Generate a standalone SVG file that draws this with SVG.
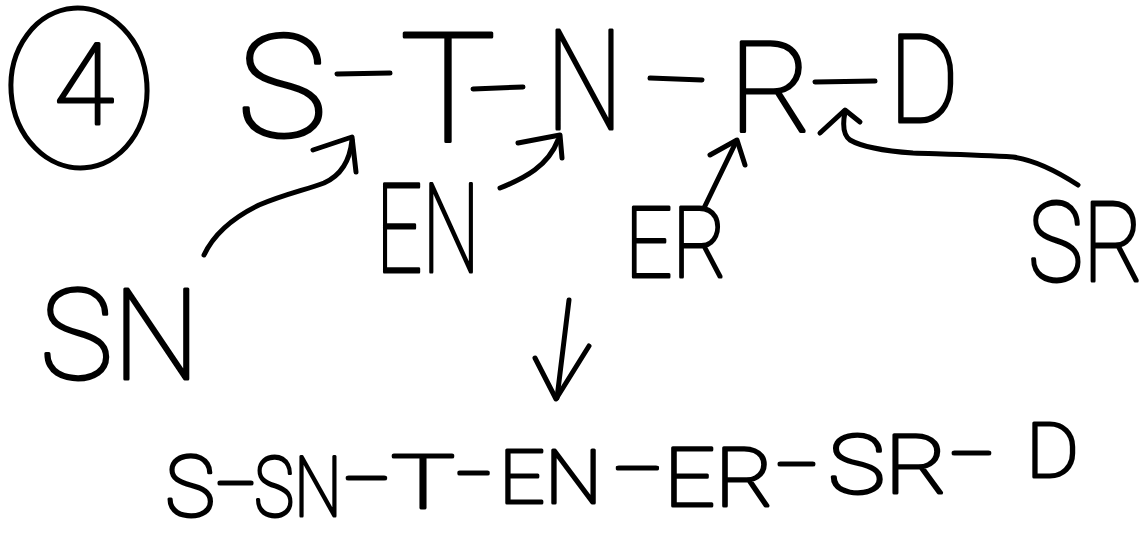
<svg xmlns="http://www.w3.org/2000/svg" width="1146" height="537" viewBox="0 0 1146 537">
<style>
.hw{font-family:Roboto,Lato,"Open Sans","DejaVu Sans",sans-serif;font-weight:100;fill:#000;stroke:#000;stroke-width:3;stroke-linejoin:round}
.ln{fill:none;stroke:#000;stroke-width:5;stroke-linecap:round;stroke-linejoin:round}
</style>
<rect width="1146" height="537" fill="#fff"/>
<g id="step-number">
<ellipse class="ln" cx="79" cy="88" rx="68" ry="80" transform="rotate(-4 79 88)"/>
<text class="hw" x="54" y="124" font-size="113" textLength="60" lengthAdjust="spacingAndGlyphs">4</text>
</g>
<g id="node-S"><text class="hw" x="237" y="137" font-size="142" textLength="90" lengthAdjust="spacingAndGlyphs">S</text></g>
<g id="node-T"><text class="hw" x="400" y="141" font-size="152" textLength="96" lengthAdjust="spacingAndGlyphs">T</text></g>
<g id="node-N"><text class="hw" x="546" y="129" font-size="139" textLength="77" lengthAdjust="spacingAndGlyphs">N</text></g>
<g id="node-R"><text class="hw" x="729" y="131" font-size="127" textLength="84" lengthAdjust="spacingAndGlyphs">R</text></g>
<g id="node-D"><text class="hw" x="889" y="122" font-size="122" textLength="70" lengthAdjust="spacingAndGlyphs">D</text></g>
<g id="node-SN"><text class="hw" x="40" y="379" font-size="127" textLength="160" lengthAdjust="spacingAndGlyphs">SN</text></g>
<g id="node-EN"><text class="hw" x="376" y="272" font-size="124" textLength="104" lengthAdjust="spacingAndGlyphs">EN</text></g>
<g id="node-ER"><text class="hw" x="625" y="277" font-size="98" textLength="102" lengthAdjust="spacingAndGlyphs">ER</text></g>
<g id="node-SR"><text class="hw" transform="translate(1028 281) scale(0.82 1)" x="0" y="0" font-size="112" textLength="141.5" lengthAdjust="spacingAndGlyphs">SR</text></g>
<g id="result">
<text class="hw" transform="scale(0.8 1)"><tspan x="206.25" y="516" font-size="86" textLength="62.5" lengthAdjust="spacingAndGlyphs">S</tspan><tspan x="270" y="509" font-size="80" textLength="50" lengthAdjust="spacingAndGlyphs">-</tspan><tspan x="317.5" y="516" font-size="84" textLength="110" lengthAdjust="spacingAndGlyphs">SN</tspan><tspan x="430" y="504" font-size="80" textLength="57.5" lengthAdjust="spacingAndGlyphs">-</tspan><tspan x="488.75" y="508" font-size="75" textLength="80" lengthAdjust="spacingAndGlyphs">T</tspan><tspan x="570" y="499" font-size="80" textLength="45" lengthAdjust="spacingAndGlyphs">-</tspan><tspan x="623.75" y="503" font-size="75" textLength="128.75" lengthAdjust="spacingAndGlyphs">EN</tspan><tspan x="767.5" y="494" font-size="80" textLength="60" lengthAdjust="spacingAndGlyphs">-</tspan><tspan x="830" y="506" font-size="82" textLength="137.5" lengthAdjust="spacingAndGlyphs">ER</tspan><tspan x="970" y="490" font-size="80" textLength="52.5" lengthAdjust="spacingAndGlyphs">-</tspan><tspan x="1035" y="493" font-size="82" textLength="150" lengthAdjust="spacingAndGlyphs">SR</tspan><tspan x="1187.5" y="479" font-size="80" textLength="55" lengthAdjust="spacingAndGlyphs">-</tspan><tspan x="1282.5" y="477" font-size="76" textLength="66.25" lengthAdjust="spacingAndGlyphs">D</tspan></text>
</g>
<g id="connectors">
<line class="ln" x1="337" y1="74" x2="390" y2="73"/>
<line class="ln" x1="473" y1="89" x2="523" y2="87"/>
<line class="ln" x1="650" y1="78" x2="702" y2="80"/>
<line class="ln" x1="815" y1="82" x2="875" y2="81"/>
<path class="ln" d="M204,255 C212,238 228,220 259,205 C285,194 305,190 324,183 C342,175 350,160 352,140"/>
<polyline class="ln" points="313,150 352,137 356,172"/>
<path class="ln" d="M500,188 C525,178 548,166 558,140"/>
<polyline class="ln" points="518,143 560,135 562,158"/>
<path class="ln" d="M704,208 Q720,175 736,142"/>
<polyline class="ln" points="710,155 737,140 745,165"/>
<path class="ln" d="M1078,185 C1055,170 1035,160 1013,157 C980,155 940,154 913,153 C885,151 862,147 850,140 C842,134 843,122 845,112"/>
<polyline class="ln" points="820,133 845,110 860,122"/>
<path class="ln" d="M569,300 L557,398"/>
<polyline class="ln" points="535,358 556,399 589,346"/>
</g>
</svg>
